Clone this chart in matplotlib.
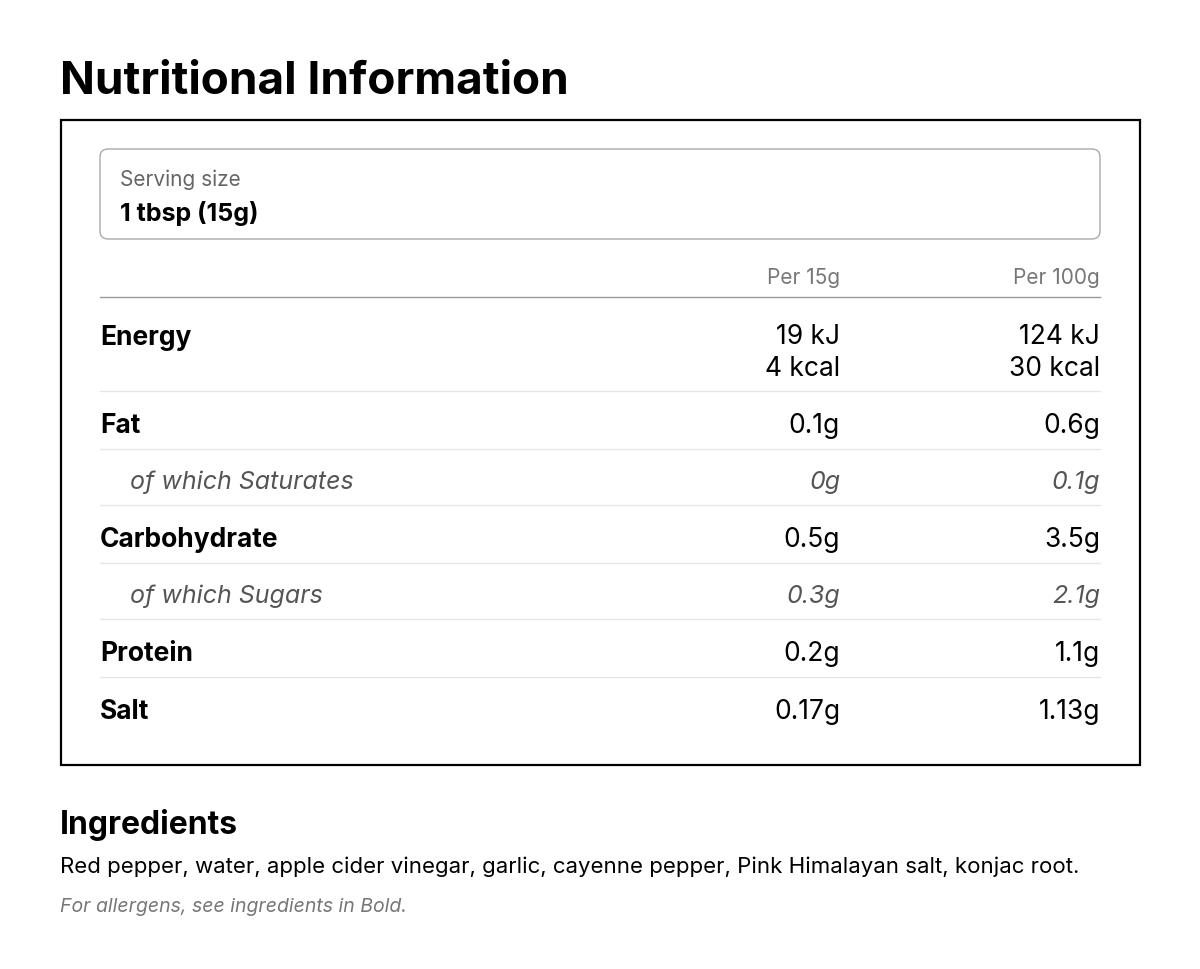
import matplotlib.pyplot as plt
from matplotlib.patches import FancyBboxPatch, Rectangle

plt.rcParams['font.family'] = ['Inter', 'DejaVu Sans']

title = "Nutritional Information"
serving_label = "Serving size"
serving_value = "1 tbsp (15g)"
col_headers = ["Per 15g", "Per 100g"]
row_names = ["Energy", "Fat", "of which Saturates", "Carbohydrate",
             "of which Sugars", "Protein", "Salt"]
row_sub = [False, False, True, False, True, False, False]
per_15g = ["19 kJ\n4 kcal", "0.1g", "0g", "0.5g", "0.3g", "0.2g", "0.17g"]
per_100g = ["124 kJ\n30 kcal", "0.6g", "0.1g", "3.5g", "2.1g", "1.1g", "1.13g"]
ingredients = ("Red pepper, water, apple cider vinegar, garlic, cayenne pepper, "
               "Pink Himalayan salt, konjac root.")
allergen_note = "For allergens, see ingredients in Bold."

fig = plt.figure(figsize=(12, 9.69), dpi=100)
ax = fig.add_axes([0, 0, 1, 1])
ax.set_xlim(0, 1200)
ax.set_ylim(969, 0)
ax.axis('off')

ax.text(60, 82, title, fontsize=33, fontweight='bold', va='center')

# outer box and serving box
ax.add_patch(Rectangle((61, 120), 1079, 645, fill=False, ec='black', lw=1.6))
ax.add_patch(FancyBboxPatch((100, 149), 1000, 90, boxstyle="round,pad=0,rounding_size=8",
                            fill=False, ec='#aaaaaa', lw=1))
ax.text(120, 180, serving_label, fontsize=15, color='#666666', va='center')
ax.text(120, 213, serving_value, fontsize=18, fontweight='bold', va='center')

x1, x2 = 840, 1100
ax.text(x1, 278, col_headers[0], fontsize=15, color='#777777', ha='right', va='center')
ax.text(x2, 278, col_headers[1], fontsize=15, color='#777777', ha='right', va='center')
ax.plot([100, 1100], [297, 297], color='#999999', lw=1)

row_y = [353, 426, 482, 540, 596, 654, 712]
line_y = [391, 449, 505, 563, 619, 677]
for y in line_y:
    ax.plot([100, 1100], [y, y], color='#e6e6e6', lw=1)

for name, sub, a, b, y in zip(row_names, row_sub, per_15g, per_100g, row_y):
    ny = 338 if '\n' in a else y
    if sub:
        kw = dict(fontsize=18, style='italic', color='#555555', va='center')
        ax.text(130, ny, name, **kw)
        ax.text(x1, y, a, ha='right', **kw)
        ax.text(x2, y, b, ha='right', **kw)
    else:
        ax.text(100, ny, name, fontsize=19, fontweight='bold', va='center')
        kw = dict(fontsize=19, va='center', ha='right', linespacing=1.25)
        ax.text(x1, y, a, multialignment='right', **kw)
        ax.text(x2, y, b, multialignment='right', **kw)

ax.text(60, 825, "Ingredients", fontsize=23, fontweight='bold', va='center')
ax.text(60, 867, ingredients, fontsize=16, va='center')
ax.text(60, 907, allergen_note, fontsize=14, style='italic', color='#777777', va='center')

fig.savefig("out.png", dpi=100)
